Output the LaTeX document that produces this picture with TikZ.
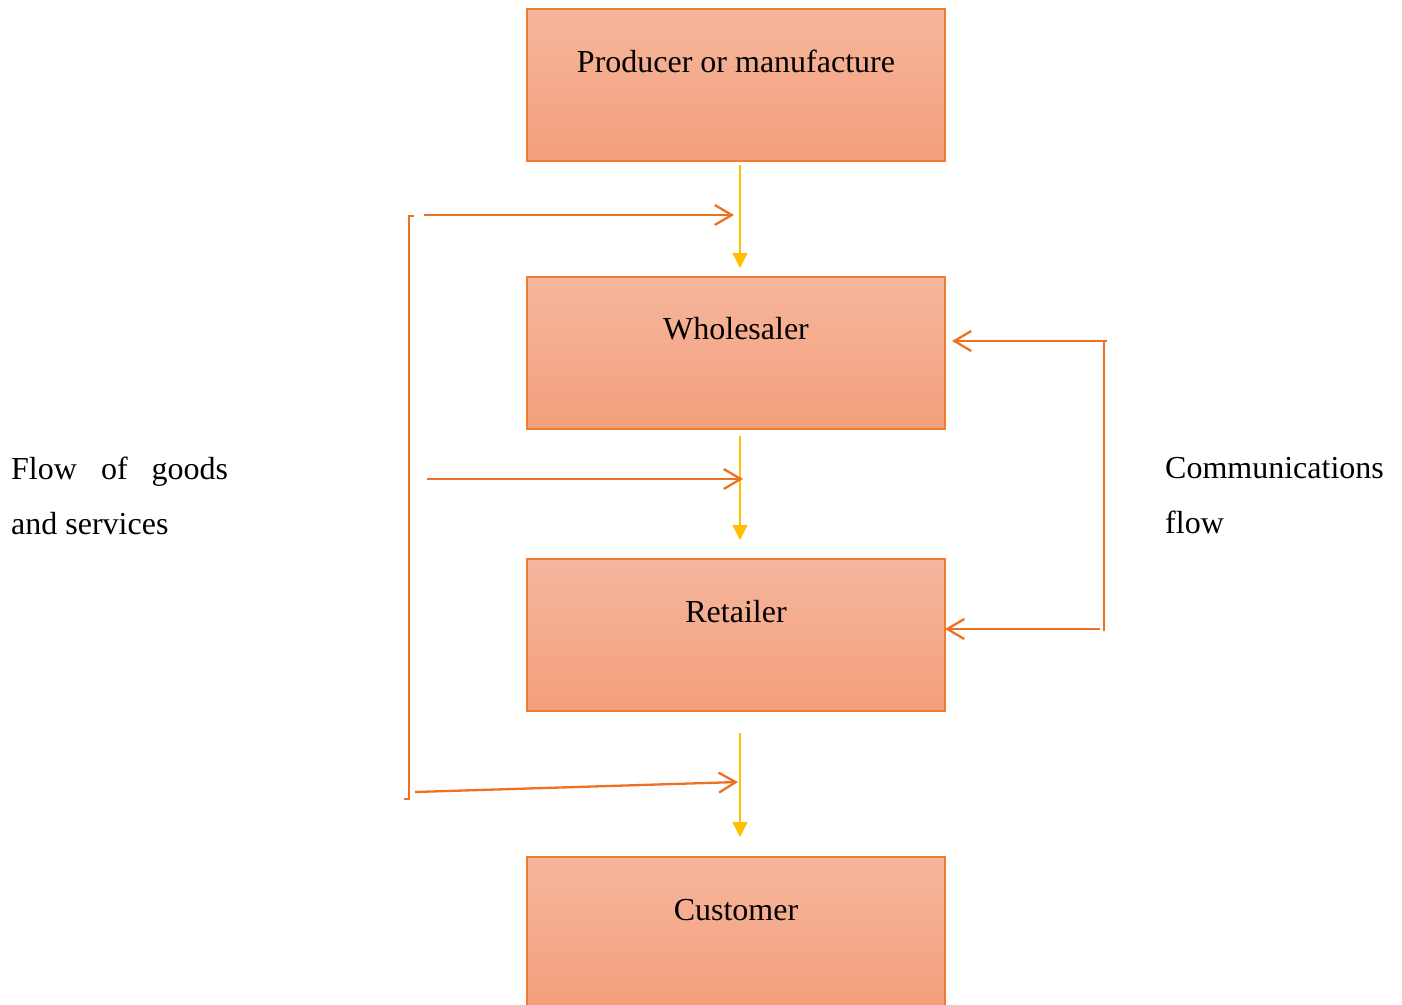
\documentclass[tikz,border=0pt]{standalone}
\usepackage{fontspec}
\setmainfont{Liberation Serif}
\usetikzlibrary{arrows.meta}
\definecolor{boxedge}{HTML}{ED7D31}
\definecolor{boxtop}{HTML}{F5B69D}
\definecolor{boxbot}{HTML}{F49F7B}
\definecolor{ylw}{HTML}{FFC000}
\definecolor{org}{HTML}{EE7023}
\tikzset{
  box/.style={draw=boxedge, line width=1.3pt, top color=boxtop, bottom color=boxbot,
    minimum width=418pt, minimum height=152pt, inner sep=0pt},
  lbl/.style={font=\fontsize{32}{38}\selectfont, inner sep=0pt, anchor=base},
  side/.style={font=\fontsize{32}{55}\selectfont, inner sep=0pt, anchor=north west, align=justify},
  yarrow/.style={draw=ylw, line width=1.4pt, -{Triangle[width=15pt,length=15pt]}},
  oarrow/.style={draw=org, line width=2.3pt, -{Straight Barb[length=17pt,width=20pt]}},
  oline/.style={draw=org, line width=2.3pt},
}
\begin{document}
\begin{tikzpicture}[x=1pt,y=-1pt]
\useasboundingbox (0,0) rectangle (1402,1004);
% boxes
\node[box] (prod)  at (736,85)  {};
\node[box] (whole) at (736,353) {};
\node[box] (ret)   at (736,635) {};
\node[box] (cust)  at (736,933) {};
\node[lbl] (tprod)  at (736,72)  {Producer or manufacture};
\node[lbl] (twhole) at (736,339) {Wholesaler};
\node[lbl] (tret)   at (736,622) {Retailer};
\node[lbl] (tcust)  at (736,920) {Customer};
% yellow flow arrows
\coordinate (y1s) at (740,165); \coordinate (y1e) at (740,268);
\coordinate (y2s) at (740,436); \coordinate (y2e) at (740,540);
\coordinate (y3s) at (740,733); \coordinate (y3e) at (740,837);
\draw[yarrow] (y1s) -- (y1e);
\draw[yarrow] (y2s) -- (y2e);
\draw[yarrow] (y3s) -- (y3e);
% left bracket and goods arrows
\coordinate (lb1) at (414,216); \coordinate (lb2) at (409,216);
\coordinate (lb3) at (409,799); \coordinate (lb4) at (404,799);
\draw[oline] (lb1) -- (lb2) -- (lb3) -- (lb4);
\coordinate (g1s) at (424,215); \coordinate (g1e) at (734,215);
\coordinate (g2s) at (427,479); \coordinate (g2e) at (743,479);
\coordinate (g3s) at (415,792); \coordinate (g3e) at (738,782);
\draw[oarrow] (g1s) -- (g1e);
\draw[oarrow] (g2s) -- (g2e);
\draw[oarrow] (g3s) -- (g3e);
% right communications bracket
\coordinate (c1) at (1107,341); \coordinate (c2) at (1104,341);
\coordinate (c3) at (1104,631);
\draw[oline] (c2) -- (c3);
\coordinate (c1e) at (952,341);
\coordinate (c2s) at (1100,629); \coordinate (c2e) at (945,629);
\draw[oarrow] (c1) -- (c1e);
\draw[oarrow] (c2s) -- (c2e);
% side texts
\node[side, text width=217pt] (goods) at (11,457) {Flow of goods\linebreak and services};
\node[side, text width=230pt, align=left] (comm) at (1165,457) {Communications\\flow};
\end{tikzpicture}
\end{document}
